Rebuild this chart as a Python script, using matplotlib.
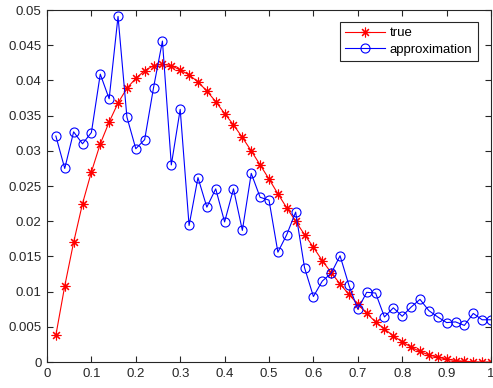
import numpy as np
import matplotlib
matplotlib.use('Agg')
import matplotlib.pyplot as plt

# datos
x = np.round(np.arange(0.02, 1.0001, 0.02), 2)

true_vals = [0.0038, 0.0108, 0.0170, 0.0225, 0.0270, 0.0310, 0.0341, 0.0368, 0.0389, 0.0403,
             0.0414, 0.0421, 0.0423, 0.0421, 0.0415, 0.0408, 0.0398, 0.0385, 0.0370, 0.0353,
             0.0337, 0.0319, 0.0300, 0.0280, 0.0260, 0.0239, 0.0219, 0.0200, 0.0181, 0.0163,
             0.0144, 0.0127, 0.0111, 0.0096, 0.0082, 0.0069, 0.0057, 0.0047, 0.0037, 0.0029,
             0.0021, 0.0015, 0.0010, 0.0007, 0.0004, 0.0002, 0.0001, 0.00003, 0.0, 0.0]

approx_vals = [0.0321, 0.0275, 0.0327, 0.0310, 0.0326, 0.0409, 0.0374, 0.0491, 0.0348, 0.0303,
               0.0316, 0.0390, 0.0456, 0.0280, 0.0359, 0.0194, 0.0262, 0.0220, 0.0246, 0.0199,
               0.0246, 0.0187, 0.0268, 0.0234, 0.0230, 0.0156, 0.0181, 0.0213, 0.0134, 0.0093,
               0.0115, 0.0126, 0.0151, 0.0109, 0.0075, 0.0099, 0.0098, 0.0064, 0.0077, 0.0065,
               0.0078, 0.0089, 0.0073, 0.0064, 0.0056, 0.0057, 0.0052, 0.0069, 0.0060, 0.0060]

xticks = np.round(np.arange(0, 1.01, 0.1), 1)
xticklabels = ['0', '0.1', '0.2', '0.3', '0.4', '0.5', '0.6', '0.7', '0.8', '0.9', '1']
yticks = np.round(np.arange(0, 0.0501, 0.005), 3)
yticklabels = ['0', '0.005', '0.01', '0.015', '0.02', '0.025', '0.03', '0.035', '0.04', '0.045', '0.05']

plt.rcParams['font.family'] = ['Liberation Sans', 'DejaVu Sans']
fig = plt.figure(figsize=(4.93, 3.88), dpi=100)
ax = fig.add_axes([0.0953, 0.067, 0.9007, 0.907])

ax.plot(x, true_vals, color='red', linewidth=0.8, marker=(8, 2, 0), markersize=7,
        markeredgewidth=0.8, label='true')
ax.plot(x, approx_vals, color='blue', linewidth=0.8, marker='o', markersize=6.5,
        markerfacecolor='none', markeredgewidth=0.8, label='approximation')

ax.set_xlim(0, 1)
ax.set_ylim(0, 0.05)
ax.set_xticks(xticks)
ax.set_xticklabels(xticklabels)
ax.set_yticks(yticks)
ax.set_yticklabels(yticklabels)

gris = '#262626'
for s in ax.spines.values():
    s.set_color(gris)
    s.set_linewidth(0.8)
ax.tick_params(direction='in', top=True, right=True, length=4, width=0.8,
               colors=gris, labelsize=9.5, labelcolor=gris, pad=4)

leg = ax.legend(loc='upper right', bbox_to_anchor=(0.985, 0.985), fontsize=9.5,
                handlelength=3.0, fancybox=False, framealpha=1, borderpad=0.4,
                labelspacing=0.3, handletextpad=0.4)
leg.get_frame().set_edgecolor(gris)
leg.get_frame().set_linewidth(0.8)

fig.savefig('out.png', dpi=100)
